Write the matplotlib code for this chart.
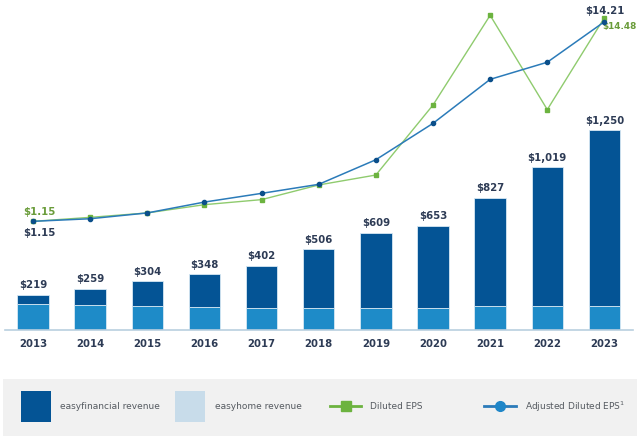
import matplotlib
matplotlib.use("Agg")
from matplotlib import pyplot as plt
from matplotlib.patches import Rectangle
from matplotlib.lines import Line2D
import numpy as np

years = ["2013", "2014", "2015", "2016", "2017", "2018", "2019", "2020", "2021", "2022", "2023"]
total_revenue = [219, 259, 304, 348, 402, 506, 609, 653, 827, 1019, 1250]
easyhome_revenue = [160, 158, 150, 142, 136, 136, 136, 140, 150, 150, 150]
easyfinancial_revenue = [t - h for t, h in zip(total_revenue, easyhome_revenue)]
diluted_eps = [1.15, 1.41, 1.70, 2.24, 2.57, 3.53, 4.18, 8.76, 14.63, 8.46, 14.48]
adjusted_eps = [1.15, 1.32, 1.70, 2.41, 2.98, 3.57, 5.18, 7.56, 10.44, 11.56, 14.21]

dark_blue = "#045495"
mid_blue = "#1e8bc8"
light_blue = "#c8dcea"
green_line = "#8fcb6e"
green_mark = "#6cb33f"
blue_line = "#2b7bb9"
blue_mark = "#0b4f8a"
navy_text = "#2d3b55"
green_text = "#6a9c3a"

fig = plt.figure(figsize=(6.4, 4.39), dpi=100)
W, H = 640, 439
ax = fig.add_axes([5 / W, (H - 331) / H, 628 / W, 326 / H])
x = np.arange(len(years))

ax.bar(x, easyhome_revenue, width=0.55, color=mid_blue, edgecolor="#d6e8f4", linewidth=0.6)
ax.bar(x, easyfinancial_revenue, width=0.55, bottom=easyhome_revenue, color=dark_blue,
       edgecolor="#d6e8f4", linewidth=0.6)
for xi, t in zip(x, total_revenue):
    ax.text(xi, t + 35, "${:,}".format(t), ha="center", va="bottom", fontsize=7.3,
            fontweight="bold", color=navy_text)

ax.set_xlim(-0.49, 10.5)
ax.set_ylim(0, 2040)
ax.set_yticks([])
ax.set_xticks(x)
ax.set_xticklabels(years, fontsize=7.3, fontweight="bold", color=navy_text)
ax.tick_params(axis="x", length=0, pad=6)
for s in ["top", "right", "left"]:
    ax.spines[s].set_visible(False)
ax.spines["bottom"].set_color("#b9cfdf")
ax.spines["bottom"].set_linewidth(1.2)

ax2 = ax.twinx()
ax2.set_ylim(-5.96, 15.37)
ax2.plot(x, diluted_eps, color=green_line, linewidth=1.0, marker="s", markersize=2.5,
         markerfacecolor=green_mark, markeredgecolor=green_mark, zorder=3)
ax2.plot(x, adjusted_eps, color=blue_line, linewidth=1.1, marker="o", markersize=3,
         markerfacecolor=blue_mark, markeredgecolor=blue_mark, zorder=4)
ax2.set_yticks([])
for s in ["top", "right", "left", "bottom"]:
    ax2.spines[s].set_visible(False)

ax2.text(x[0] + 0.12, diluted_eps[0] + 0.35, "$1.15", ha="center", va="bottom", fontsize=7.3,
         fontweight="bold", color=green_text)
ax2.text(x[0] + 0.12, adjusted_eps[0] - 0.35, "$1.15", ha="center", va="top", fontsize=7.3,
         fontweight="bold", color=navy_text)
ax2.text(x[-1], adjusted_eps[-1] + 0.45, "$14.21", ha="center", va="bottom", fontsize=7.3,
         fontweight="bold", color=navy_text)
ax2.text(x[-1] - 0.03, diluted_eps[-1] - 0.2, "$14.48", ha="left", va="top", fontsize=6.4,
         fontweight="bold", color=green_text)

# legend strip
fig.patches.append(Rectangle((3 / W, (H - 437) / H), 634 / W, 57 / H, transform=fig.transFigure,
                             facecolor="#f1f1f1", edgecolor="none", zorder=0))
fig.patches.append(Rectangle((21 / W, (H - 423) / H), 30 / W, 31 / H, transform=fig.transFigure,
                             facecolor=dark_blue, edgecolor="none"))
fig.patches.append(Rectangle((175 / W, (H - 423) / H), 30 / W, 31 / H, transform=fig.transFigure,
                             facecolor=light_blue, edgecolor="none"))
ly = (H - 407) / H
fig.lines.append(Line2D([330 / W, 361 / W], [ly, ly], transform=fig.transFigure, color=green_mark,
                        linewidth=2))
fig.lines.append(Line2D([345.5 / W], [ly], transform=fig.transFigure, marker="s", markersize=7,
                        color=green_mark))
fig.lines.append(Line2D([484 / W, 516 / W], [ly, ly], transform=fig.transFigure, color=blue_line,
                        linewidth=2))
fig.lines.append(Line2D([500 / W], [ly], transform=fig.transFigure, marker="o", markersize=7,
                        color="#1f86c8"))
legend_items = [(60, "easyfinancial revenue"), (215, "easyhome revenue"), (370, "Diluted EPS"),
                (525, "Adjusted Diluted EPS$^{1}$")]
for px, label in legend_items:
    fig.text(px / W, ly, label, ha="left", va="center", fontsize=6.5, color="#555a60")

fig.savefig("out.png", dpi=100)
